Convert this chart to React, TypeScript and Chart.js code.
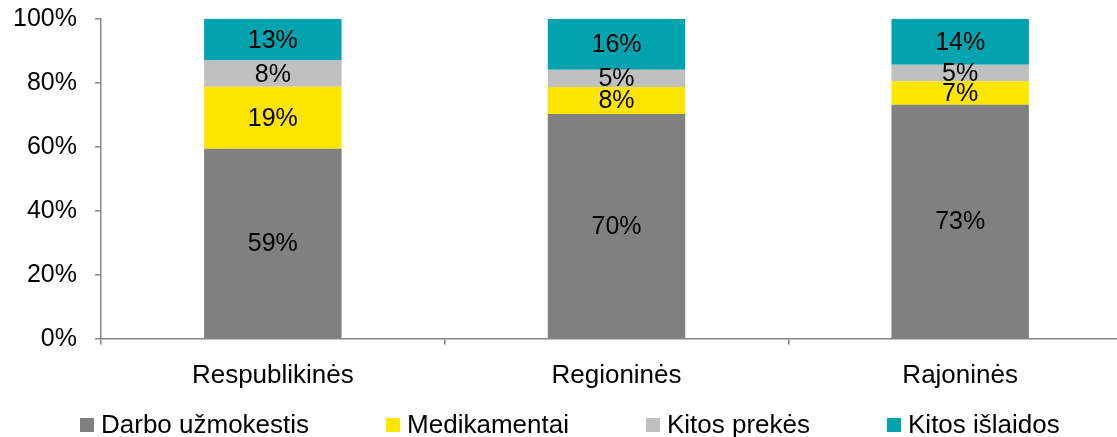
import React, { useEffect, useRef } from "react";
import { Chart, registerables } from "chart.js";

Chart.register(...registerables);

const categories = ["Respublikinės", "Regioninės", "Rajoninės"];
const seriesNames = ["Darbo užmokestis", "Medikamentai", "Kitos prekės", "Kitos išlaidos"];
const darboUzmokestis = [59.4, 70.3, 73.2];
const medikamentai = [19.4, 8.4, 7.3];
const kitosPrekes = [8.2, 5.4, 5.2];
const kitosIslaidos = [13.0, 15.9, 14.3];
const seriesColors = ["#808080", "#FFE600", "#C0C0C0", "#00A3AE"];
const yTickStep = 20;
const yMax = 100;

const FONT = '"Liberation Sans", Arial, sans-serif';
const AXIS_COLOR = "#868686";

const segmentLabels = {
  id: "segmentLabels",
  afterDatasetsDraw(chart: any) {
    const ctx = chart.ctx;
    ctx.save();
    ctx.font = `25px ${FONT}`;
    ctx.fillStyle = "#000";
    ctx.textAlign = "center";
    ctx.textBaseline = "middle";
    chart.data.datasets.forEach((ds: any, i: number) => {
      const meta = chart.getDatasetMeta(i);
      meta.data.forEach((bar: any, j: number) => {
        const v = ds.data[j];
        const p = bar.getProps(["x", "y", "base"], true);
        ctx.fillText(Math.round(v) + "%", p.x, (p.y + p.base) / 2 + 1);
      });
    });
    ctx.restore();
  },
};

export default function App() {
  const ref = useRef<HTMLCanvasElement | null>(null);
  useEffect(() => {
    if (!ref.current) return;
    const values = [darboUzmokestis, medikamentai, kitosPrekes, kitosIslaidos];
    const chart = new Chart(ref.current, {
      type: "bar",
      data: {
        labels: categories,
        datasets: seriesNames.map((name, i) => ({
          label: name,
          data: values[i],
          backgroundColor: seriesColors[i],
          borderWidth: 0,
          barPercentage: 0.4,
          categoryPercentage: 1,
        })),
      },
      options: {
        animation: false,
        responsive: false,
        maintainAspectRatio: false,
        layout: { padding: { left: 0, right: 8, top: 19, bottom: 31 } },
        plugins: { legend: { display: false }, tooltip: { enabled: false } },
        scales: {
          x: {
            stacked: true,
            grid: {
              display: true,
              drawOnChartArea: false,
              drawTicks: true,
              tickLength: 6,
              color: AXIS_COLOR,
              lineWidth: 1.5,
              offset: true,
            },
            border: { display: true, color: AXIS_COLOR, width: 1.5 },
            ticks: { font: { family: FONT, size: 26 }, color: "#000", padding: 15 },
          },
          y: {
            stacked: true,
            min: 0,
            max: yMax,
            grid: {
              display: true,
              drawOnChartArea: false,
              drawTicks: true,
              tickLength: 6,
              color: AXIS_COLOR,
              lineWidth: 1.5,
            },
            border: { display: true, color: AXIS_COLOR, width: 1.5 },
            ticks: {
              stepSize: yTickStep,
              font: { family: FONT, size: 25 },
              color: "#000",
              padding: 18,
              callback: (v: any) => v + "%",
            },
            afterFit: (s: any) => {
              s.width = 101;
              s.paddingTop = 0;
              s.paddingBottom = 0;
            },
          },
        },
      },
      plugins: [segmentLabels],
    });
    return () => chart.destroy();
  }, []);

  return (
    <div
      style={{
        position: "fixed",
        left: 0,
        top: 0,
        width: 1117,
        height: 437,
        overflow: "hidden",
        background: "#fff",
      }}
    >
      <canvas
        ref={ref}
        width={1140}
        height={437}
        style={{ position: "absolute", left: 0, top: 0, width: 1140, height: 437 }}
      />
      <div
        style={{
          position: "absolute",
          left: 80,
          top: 409,
          display: "flex",
          justifyContent: "flex-start",
          columnGap: 77,
          fontFamily: FONT,
          fontSize: 26,
          lineHeight: "30px",
          color: "#000",
          whiteSpace: "nowrap",
        }}
      >
        {seriesNames.map((name, i) => (
          <div key={name} style={{ display: "flex", alignItems: "center", columnGap: 7 }}>
            <span
              style={{ display: "inline-block", width: 14, height: 14, background: seriesColors[i], marginTop: 2 }}
            />
            <span>{name}</span>
          </div>
        ))}
      </div>
    </div>
  );
}
